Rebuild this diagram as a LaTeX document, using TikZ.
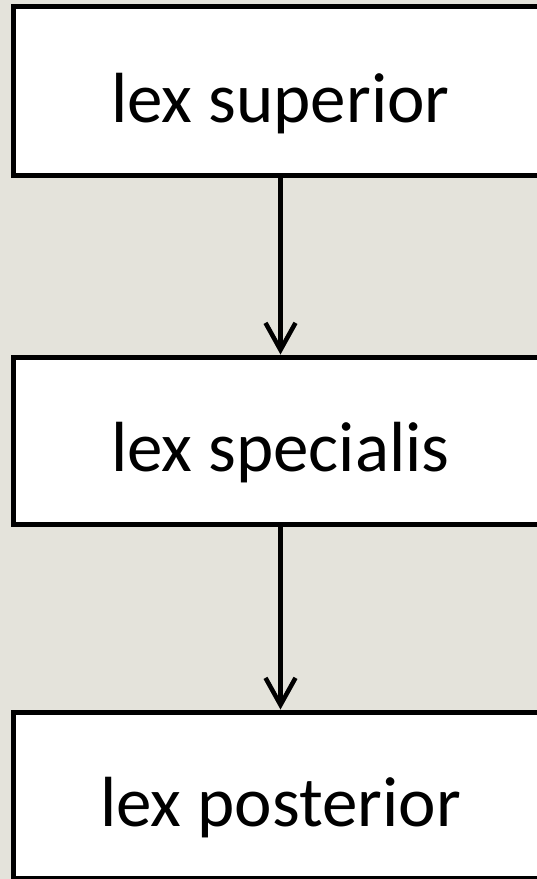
\documentclass[tikz,border=0pt]{standalone}
\usepackage{fontspec}
\setmainfont{Carlito}
\usetikzlibrary{arrows.meta,positioning}
\definecolor{slidebg}{RGB}{228,227,219}

\begin{document}
\begin{tikzpicture}[x=1pt,y=1pt,
                    lexbox/.style={draw=black,fill=white,line width=5pt,rectangle,
                      minimum width=534pt,inner sep=0pt,
                      font=\fontsize{71}{85}\selectfont,text height=62.5pt,text depth=0pt},
                    lexarrow/.style={line width=4.5pt,-{Straight Barb[length=27pt,width=30pt]}}]

                    %%background
                    \useasboundingbox (0,0) rectangle (537,-879);
                    \fill[slidebg] (0,0) rectangle (537,-879);

                    %%boxes
                    \node[lexbox,minimum height=168.5pt] (superior) at (280.5,-90.75) {lex superior};
                    \node[lexbox,minimum height=167pt] (specialis) at (280.5,-440.5) {lex specialis};
                    \node[lexbox,minimum height=166pt] (posterior) at (280.5,-795) {lex posterior};

                    %%arrows
                    \draw[lexarrow] (superior) -- (specialis);
                    \draw[lexarrow] (specialis) -- (posterior);

                \end{tikzpicture}
\end{document}
